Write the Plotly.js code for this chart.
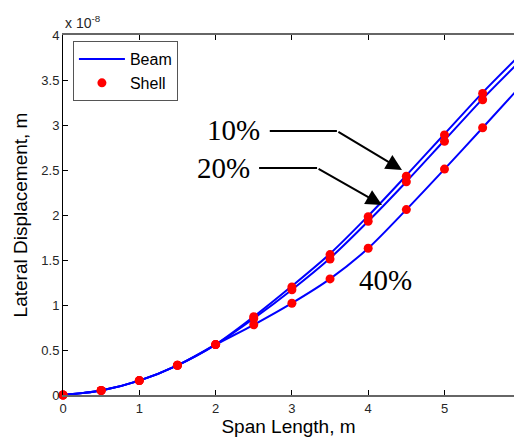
<!DOCTYPE html>
<html>
<head>
<meta charset="utf-8">
<script src="https://cdn.plot.ly/plotly-3.0.1.min.js"></script>
<style>html,body{margin:0;padding:0;background:#fff;}#chart{width:514px;height:439px;}</style>
</head>
<body>
<div id="chart"></div>
<script>
// Span length positions of Shell samples (m)
const spanShell = [0, 0.5, 1, 1.5, 2, 2.5, 3, 3.5, 4, 4.5, 5, 5.5];
// Shell lateral displacement (x 1e-8 m)
const shell10 = [0, 0.05, 0.16, 0.33, 0.56, 0.87, 1.20, 1.56, 1.98, 2.43, 2.89, 3.35];
const shell20 = [0, 0.05, 0.16, 0.33, 0.56, 0.85, 1.17, 1.51, 1.93, 2.37, 2.82, 3.28];
const shell40 = [0, 0.05, 0.16, 0.33, 0.56, 0.78, 1.02, 1.29, 1.63, 2.06, 2.51, 2.97];
// Beam curve (x 1e-8 m)
const spanBeam = [0, 0.5, 1, 1.5, 2, 2.5, 3, 3.5, 4, 4.5, 5, 5.5, 5.92];
const beam10 = [0, 0.05, 0.16, 0.33, 0.56, 0.87, 1.21, 1.57, 1.99, 2.44, 2.90, 3.36, 3.72];
const beam20 = [0, 0.05, 0.16, 0.33, 0.56, 0.85, 1.17, 1.52, 1.93, 2.37, 2.83, 3.29, 3.65];
const beam40 = [0, 0.05, 0.16, 0.33, 0.56, 0.78, 1.02, 1.29, 1.63, 2.06, 2.51, 2.97, 3.36];
const labels = ["10%", "20%", "40%"];

const blue = '#0000ff', red = '#ff0000';
const beams = [beam10, beam20, beam40];
const shells = [shell10, shell20, shell40];
const traces = [];
beams.forEach((b, i) => traces.push({
  x: spanBeam, y: b, type: 'scatter', mode: 'lines', name: 'Beam',
  line: {color: blue, width: 2, shape: 'spline', smoothing: 0.8},
  showlegend: i === 0
}));
shells.forEach((s, i) => traces.push({
  x: spanShell, y: s, type: 'scatter', mode: 'markers', name: 'Shell',
  marker: {color: red, size: 9, symbol: 'circle'},
  cliponaxis: false, showlegend: i === 0
}));

const tf = {family: 'Liberation Serif, Times New Roman, serif', size: 29, color: '#000'};
const layout = {
  width: 514, height: 439,
  margin: {l: 63, r: 0, t: 35, b: 44},
  paper_bgcolor: '#fff', plot_bgcolor: '#fff',
  font: {family: 'Liberation Sans, Arial, sans-serif', size: 13, color: '#262626'},
  showlegend: true,
  legend: {x: 0.022, y: 0.983, xanchor: 'left', yanchor: 'top', traceorder: 'normal',
    bgcolor: '#fff', bordercolor: '#555', borderwidth: 1, itemwidth: 46,
    font: {size: 16, color: '#000'}, tracegroupgap: 0},
  xaxis: {range: [0, 5.911], dtick: 1, tick0: 0, ticks: 'inside', ticklen: 5,
    tickcolor: '#000', showline: true, linecolor: '#666', linewidth: 2, mirror: 'ticks',
    showgrid: false, zeroline: false,
    title: {text: 'Span Length, m', font: {size: 19, color: '#000'}, standoff: 4}},
  yaxis: {range: [0, 4], dtick: 0.5, tick0: 0, ticks: 'inside', ticklen: 5,
    tickcolor: '#000', showline: true, linecolor: '#000', linewidth: 1,
    showgrid: false, zeroline: false,
    title: {text: 'Lateral Displacement, m', font: {size: 19, color: '#000'}, standoff: 8}},
  shapes: [
    {type: 'line', xref: 'x', yref: 'y', x0: 2.71, y0: 2.933, x1: 3.59, y1: 2.933, line: {color: '#000', width: 2}},
    {type: 'line', xref: 'x', yref: 'y', x0: 2.57, y0: 2.522, x1: 3.33, y1: 2.522, line: {color: '#000', width: 2}}
  ],
  annotations: [
    {text: 'x 10<sup>-8</sup>', xref: 'paper', yref: 'paper', x: 0, y: 1.036,
      xanchor: 'left', yanchor: 'middle', showarrow: false, font: {size: 14, color: '#262626'}},
    {text: labels[0], xref: 'x', yref: 'y', x: 2.23, y: 2.944, xanchor: 'center', yanchor: 'middle', showarrow: false, font: tf},
    {text: labels[1], xref: 'x', yref: 'y', x: 2.10, y: 2.522, xanchor: 'center', yanchor: 'middle', showarrow: false, font: tf},
    {text: labels[2], xref: 'x', yref: 'y', x: 4.23, y: 1.28, xanchor: 'center', yanchor: 'middle', showarrow: false, font: tf},
    {text: '', xref: 'x', yref: 'y', axref: 'x', ayref: 'y', x: 4.443, y: 2.50, ax: 3.59, ay: 2.933,
      showarrow: true, arrowhead: 2, arrowsize: 1.6, arrowwidth: 2, arrowcolor: '#000', standoff: 0},
    {text: '', xref: 'x', yref: 'y', axref: 'x', ayref: 'y', x: 4.181, y: 2.111, ax: 3.33, ay: 2.522,
      showarrow: true, arrowhead: 2, arrowsize: 1.6, arrowwidth: 2, arrowcolor: '#000', standoff: 0}
  ]
};
Plotly.newPlot('chart', traces, layout, {displayModeBar: false, staticPlot: true});
</script>
</body>
</html>
